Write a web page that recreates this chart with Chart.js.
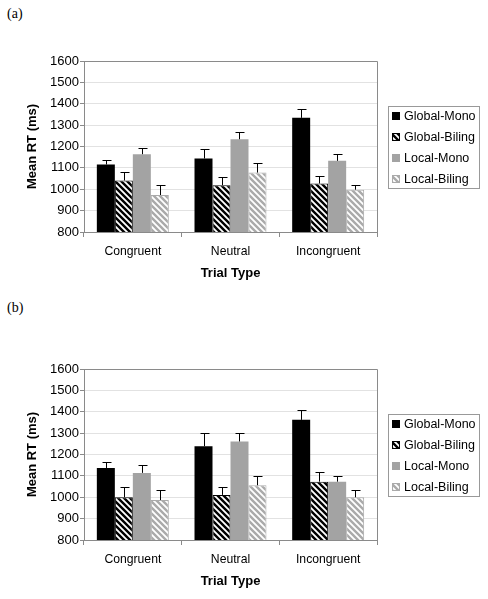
<!DOCTYPE html>
<html>
<head>
<meta charset="utf-8">
<script src="https://cdn.jsdelivr.net/npm/chart.js@4"></script>
<style>
  body { margin: 0; background: #fff; width: 488px; height: 599px; position: relative; overflow: hidden; }
  .panel { position: absolute; left: 0; width: 488px; height: 290px; }
  .tag { position: absolute; left: 7px; font: 14px "Liberation Serif", "Times New Roman", serif; color: #000; }
</style>
</head>
<body>
<div class="tag" style="top:6px">(a)</div>
<div class="panel" style="top:0"><canvas id="chartA" width="488" height="290"></canvas></div>
<div class="tag" style="top:300px">(b)</div>
<div class="panel" style="top:308px"><canvas id="chartB" width="488" height="290"></canvas></div>

<script>
// ===== DATA =====
const categories = ['Congruent', 'Neutral', 'Incongruent'];
const seriesNames = ['Global-Mono', 'Global-Biling', 'Local-Mono', 'Local-Biling'];
const yTicks = [800, 900, 1000, 1100, 1200, 1300, 1400, 1500, 1600];

// panel (a): means and error bar sizes
const globalMonoA = [1116, 1144, 1334];
const globalBilingA = [1041, 1019, 1027];
const localMonoA = [1164, 1234, 1133];
const localBilingA = [973, 1078, 998];
const globalMonoErrA = [20, 43, 41];
const globalBilingErrA = [42, 37, 37];
const localMonoErrA = [31, 32, 31];
const localBilingErrA = [49, 44, 24];

// panel (b)
const globalMonoB = [1137, 1239, 1362];
const globalBilingB = [1000, 1011, 1073];
const localMonoB = [1114, 1261, 1073];
const localBilingB = [987, 1056, 1000];
const globalMonoErrB = [27, 63, 46];
const globalBilingErrB = [47, 36, 44];
const localMonoErrB = [36, 41, 27];
const localBilingErrB = [46, 44, 33];

const FONT = '"Liberation Sans", Arial, sans-serif';

// ===== HATCH PATTERN =====
function hatch(color) {
  const s = 6;
  const c = document.createElement('canvas');
  c.width = s; c.height = s;
  const g = c.getContext('2d');
  g.fillStyle = '#fff';
  g.fillRect(0, 0, s, s);
  g.strokeStyle = color;
  g.lineWidth = 2.4;
  g.beginPath();
  g.moveTo(0, 0); g.lineTo(s, s);
  g.moveTo(-2, s - 2); g.lineTo(2, s + 2);
  g.moveTo(s - 2, -2); g.lineTo(s + 2, 2);
  g.stroke();
  return g.createPattern(c, 'repeat');
}

// ===== PLUGINS =====
// error bars (upper half only, with cap)
const errorBars = {
  id: 'errorBars',
  afterDatasetsDraw(chart) {
    const ctx = chart.ctx;
    const y = chart.scales.y;
    ctx.save();
    ctx.strokeStyle = '#000';
    ctx.lineWidth = 1;
    chart.data.datasets.forEach((ds, i) => {
      chart.getDatasetMeta(i).data.forEach((bar, j) => {
        const top = Math.round(y.getPixelForValue(ds.data[j] + ds.errors[j])) + 0.5;
        const x = Math.round(bar.x) + 0.5;
        ctx.beginPath();
        ctx.moveTo(x, bar.y);
        ctx.lineTo(x, top);
        ctx.moveTo(x - 4, top);
        ctx.lineTo(x + 5, top);
        ctx.stroke();
      });
    });
    ctx.restore();
  }
};

// top + right border of the plot area
const frame = {
  id: 'frame',
  beforeDatasetsDraw(chart) {
    const { ctx, chartArea: a } = chart;
    ctx.save();
    ctx.strokeStyle = '#8a8a8a';
    ctx.lineWidth = 1;
    ctx.beginPath();
    ctx.moveTo(Math.round(a.left), Math.round(a.top) + 0.5);
    ctx.lineTo(Math.round(a.right) + 0.5, Math.round(a.top) + 0.5);
    ctx.lineTo(Math.round(a.right) + 0.5, Math.round(a.bottom));
    ctx.stroke();
    ctx.restore();
  }
};

// boxed legend to the right of the plot
const boxLegend = {
  id: 'boxLegend',
  afterDraw(chart) {
    const { ctx, chartArea: a } = chart;
    const left = Math.round(a.right) + 11;
    const top = Math.round((a.top + a.bottom) / 2) - 41;
    ctx.save();
    ctx.strokeStyle = '#999';
    ctx.lineWidth = 1;
    ctx.strokeRect(left + 0.5, top + 0.5, 91, 82);
    ctx.font = '12.5px ' + FONT;
    ctx.textBaseline = 'middle';
    chart.data.datasets.forEach((ds, i) => {
      const cy = top + 10 + i * 21;
      ctx.fillStyle = ds.backgroundColor;
      ctx.fillRect(left + 4, cy - 4, 8, 8);
      ctx.strokeStyle = ds.borderColor;
      ctx.strokeRect(left + 4.5, cy - 3.5, 7, 7);
      ctx.fillStyle = '#000';
      ctx.fillText(ds.label, left + 16, cy + 1);
    });
    ctx.restore();
  }
};

// ===== BUILD CHART =====
function makeChart(id, values, errors) {
  const fills = ['#000', hatch('#000'), '#a3a3a3', hatch('#aaa')];
  const borders = ['#000', '#000', '#a3a3a3', '#aaa'];

  new Chart(document.getElementById(id), {
    type: 'bar',
    data: {
      labels: categories,
      datasets: seriesNames.map((name, i) => ({
        label: name,
        data: values[i],
        errors: errors[i],
        backgroundColor: fills[i],
        borderColor: borders[i],
        borderWidth: i % 2 ? 1 : 0,
        barPercentage: 1,
        categoryPercentage: 0.737
      }))
    },
    options: {
      responsive: false,
      animation: false,
      events: [],
      layout: { padding: { top: 61, right: 111, left: 0, bottom: 0 } },
      plugins: {
        legend: { display: false },
        tooltip: { enabled: false }
      },
      scales: {
        x: {
          afterFit(s) { s.height = 58; },
          grid: { offset: true, drawOnChartArea: false, tickLength: 5, color: '#8a8a8a' },
          border: { color: '#8a8a8a' },
          ticks: { color: '#000', font: { family: FONT, size: 12.2 }, padding: 7 },
          title: {
            display: true, text: 'Trial Type', color: '#000',
            font: { family: FONT, size: 13, weight: 'bold' },
            padding: { top: 0, bottom: 9 }
          }
        },
        y: {
          min: yTicks[0],
          max: yTicks[yTicks.length - 1],
          afterFit(s) { s.width = 84; },
          afterBuildTicks(s) { s.ticks = yTicks.map(v => ({ value: v })); },
          grid: { color: '#e2e2e2', tickColor: '#8a8a8a', tickLength: 4 },
          border: { color: '#8a8a8a' },
          ticks: {
            color: '#000', font: { family: FONT, size: 13 }, padding: 1,
            callback: v => String(v)
          },
          title: {
            display: true, text: 'Mean RT (ms)', color: '#000',
            font: { family: FONT, size: 13, weight: 'bold' },
            padding: { top: 25, bottom: 0 }
          }
        }
      }
    },
    plugins: [frame, errorBars, boxLegend]
  });
}

document.addEventListener('DOMContentLoaded', () => {
  makeChart('chartA',
    [globalMonoA, globalBilingA, localMonoA, localBilingA],
    [globalMonoErrA, globalBilingErrA, localMonoErrA, localBilingErrA]);
  makeChart('chartB',
    [globalMonoB, globalBilingB, localMonoB, localBilingB],
    [globalMonoErrB, globalBilingErrB, localMonoErrB, localBilingErrB]);
});
</script>
</body>
</html>
